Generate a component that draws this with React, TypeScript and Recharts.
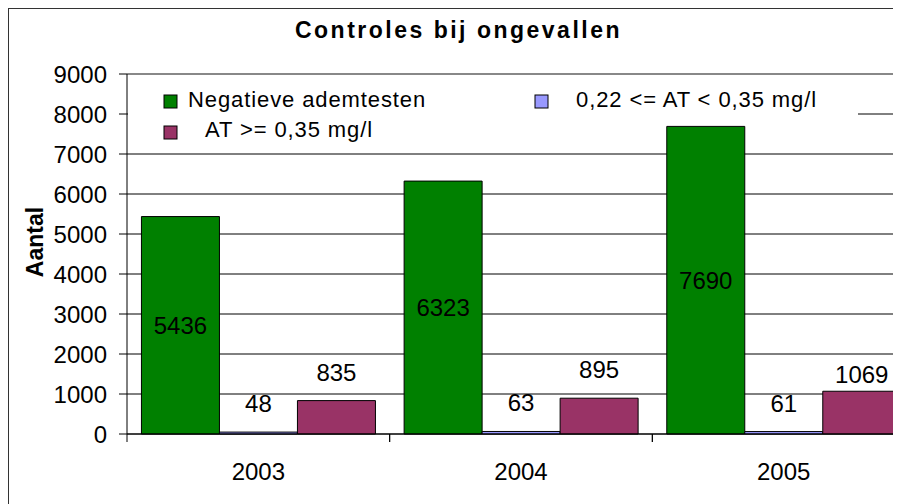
import { BarChart, Bar, XAxis, YAxis, CartesianGrid, LabelList, ReferenceLine } from "recharts";

// data
const years = ["2003", "2004", "2005"];
const negatieve = [5436, 6323, 7690];
const tussen = [48, 63, 61];
const boven = [835, 895, 1069];
const yTicks = [0, 1000, 2000, 3000, 4000, 5000, 6000, 7000, 8000, 9000];

const seriesNames = ["Negatieve ademtesten", "0,22 <= AT < 0,35 mg/l", "AT >= 0,35 mg/l"];
const seriesColors = ["#008000", "#9999FF", "#993366"];

const FONT = '"Liberation Sans", Arial, sans-serif';
const CHART_W = 958;
const CHART_H = 538;
const PLOT_W = 788;
const BAND = PLOT_W / years.length;

// small extra tweak for the magenta labels (Excel moved the last one down)
const bovenLabelGap = [20, 20, 8];

const chartData = years.map((year, i) => ({
  year,
  negatieve: negatieve[i],
  tussen: tussen[i],
  boven: boven[i],
}));

function YearTick(props: any) {
  const { x, y, payload } = props;
  return (
    <g>
      <line x1={x - BAND / 2} x2={x - BAND / 2} y1={y} y2={y + 8} stroke="#000" />
      <line x1={x + BAND / 2} x2={x + BAND / 2} y1={y} y2={y + 8} stroke="#000" />
      <text x={x} y={y + 46} textAnchor="middle" fontSize={24} fill="#000" fontFamily={FONT}>
        {payload.value}
      </text>
    </g>
  );
}

function BovenLabel(props: any) {
  const { x, y, width, value, index } = props;
  return (
    <text
      x={x + width / 2}
      y={y - bovenLabelGap[index]}
      textAnchor="middle"
      fontSize={24}
      fill="#000"
      fontFamily={FONT}
    >
      {value}
    </text>
  );
}

function Legend() {
  // legend box drawn on top of the plot, like the Excel original
  const items = [
    { sq: [155, 86], tx: [179, 98] },
    { sq: [526, 86], tx: [567, 98] },
    { sq: [155, 117], tx: [196, 128] },
  ];
  return (
    <g>
      <rect x={119} y={66} width={730} height={47} fill="#fff" />
      {items.map((it, i) => (
        <g key={seriesNames[i]}>
          <rect x={it.sq[0]} y={it.sq[1]} width={13} height={13} fill={seriesColors[i]} stroke="#000" />
          <text x={it.tx[0]} y={it.tx[1]} fontSize={22} letterSpacing={0.9} fill="#000" fontFamily={FONT}>
            {seriesNames[i]}
          </text>
        </g>
      ))}
    </g>
  );
}

export default function App() {
  return (
    <div style={{ position: "relative", width: 893, height: 496, overflow: "hidden", fontFamily: FONT }}>
      <div
        style={{
          position: "absolute",
          left: 0,
          top: 0,
          width: CHART_W + 2,
          height: CHART_H + 2,
          border: "1px solid #333",
          boxSizing: "border-box",
          background: "#fff",
        }}
      >
        <BarChart
          width={CHART_W}
          height={CHART_H}
          data={chartData}
          margin={{ top: 65, right: CHART_W - 118 - PLOT_W, bottom: 53, left: 0 }}
          barCategoryGap="5.5%"
          barGap={0}
        >
          <CartesianGrid vertical={false} stroke="#000" strokeOpacity={1} />
          <ReferenceLine y={9000} stroke="#888" strokeWidth={2} />
          <XAxis
            dataKey="year"
            axisLine={{ stroke: "#000" }}
            tickLine={false}
            tickSize={0}
            tickMargin={0}
            height={60}
            tick={<YearTick />}
            interval={0}
          />
          <YAxis
            width={118}
            domain={[0, 9000]}
            ticks={yTicks}
            interval={0}
            axisLine={{ stroke: "#000" }}
            tickLine={{ stroke: "#000" }}
            tickSize={8}
            tickMargin={12}
            tick={{ fill: "#000", fontSize: 24, fontFamily: FONT }}
            label={{
              content: () => (
                <text
                  x={26}
                  y={233}
                  transform="rotate(-90 26 233)"
                  textAnchor="middle"
                  dominantBaseline="central"
                  fontSize={23}
                  fontWeight="bold"
                  fill="#000"
                  fontFamily={FONT}
                >
                  Aantal
                </text>
              ),
            }}
          />
          <Bar dataKey="negatieve" name={seriesNames[0]} fill={seriesColors[0]} stroke="#000" isAnimationActive={false}>
            <LabelList dataKey="negatieve" position="center" fill="#000" fontSize={24} fontFamily={FONT} />
          </Bar>
          <Bar dataKey="tussen" name={seriesNames[1]} fill={seriesColors[1]} stroke="#000" isAnimationActive={false}>
            <LabelList dataKey="tussen" position="top" offset={20} fill="#000" fontSize={24} fontFamily={FONT} />
          </Bar>
          <Bar dataKey="boven" name={seriesNames[2]} fill={seriesColors[2]} stroke="#000" isAnimationActive={false}>
            <LabelList dataKey="boven" content={<BovenLabel />} />
          </Bar>
        </BarChart>
        <svg
          width={CHART_W}
          height={CHART_H}
          style={{ position: "absolute", left: 0, top: 0, pointerEvents: "none" }}
        >
          <text
            x={449.5}
            y={29}
            textAnchor="middle"
            fontSize={23}
            fontWeight="bold"
            letterSpacing={2.5}
            fill="#000"
            fontFamily={FONT}
          >
            Controles bij ongevallen
          </text>
          <Legend />
        </svg>
      </div>
    </div>
  );
}
